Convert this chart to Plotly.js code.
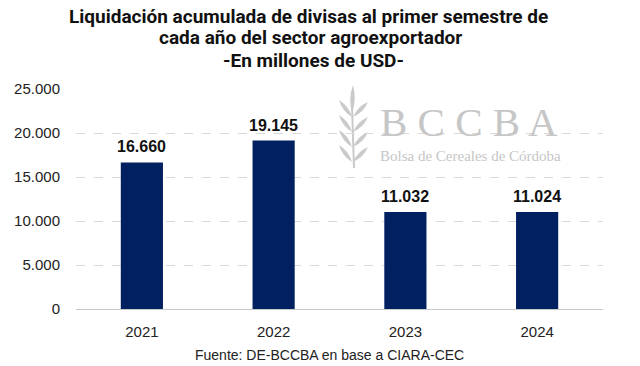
<!DOCTYPE html>
<html>
<head>
<meta charset="utf-8">
<script src="https://cdn.plot.ly/plotly-3.0.1.min.js"></script>
<style>html,body{margin:0;padding:0;background:#fff;}#chart{width:640px;height:366px;}</style>
</head>
<body>
<div id="chart"></div>
<script>
// Data
const years = ['2021', '2022', '2023', '2024'];
const values = [16660, 19145, 11032, 11024];
const yTicks = [0, 5000, 10000, 15000, 20000, 25000];

const titleLines = [
  'Liquidación acumulada de divisas al primer semestre de',
  'cada año del sector agroexportador',
  '-En millones de USD-'
];
const sourceText = 'Fuente: DE-BCCBA en base a CIARA-CEC';

function fmt(v) { return String(v).replace(/\B(?=(\d{3})+(?!\d))/g, '.'); }

// plot-area geometry (pixels) for watermark / text placement
const L = 76, R = 603, T = 89, B = 309;
const px = x => (x - L) / (R - L);
const py = y => (B - y) / (B - T);

const wmColor = '#cacaca';
function leaf(bx, by, tx, ty, w) {
  const mx = (bx + tx) / 2, my = (by + ty) / 2;
  const dx = tx - bx, dy = ty - by, len = Math.hypot(dx, dy);
  const nx = -dy / len * w, ny = dx / len * w;
  return 'M' + px(bx) + ',' + py(by) +
    ' Q' + px(mx + nx) + ',' + py(my + ny) + ' ' + px(tx) + ',' + py(ty) +
    ' Q' + px(mx - nx) + ',' + py(my - ny) + ' ' + px(bx) + ',' + py(by) + ' Z';
}
const shapes = [];
shapes.push({type: 'path', xref: 'paper', yref: 'paper',
  path: 'M' + px(354) + ',' + py(168) + ' L' + px(352) + ',' + py(105),
  line: {color: wmColor, width: 2}, layer: 'below'});
const leafY = [117, 132, 147, 162];
leafY.forEach((y) => {
  shapes.push({type: 'path', xref: 'paper', yref: 'paper', path: leaf(352, y, 339, y - 17, 4.2),
    fillcolor: wmColor, line: {width: 0}, layer: 'below'});
  shapes.push({type: 'path', xref: 'paper', yref: 'paper', path: leaf(353, y, 368, y - 15, 4.2),
    fillcolor: wmColor, line: {width: 0}, layer: 'below'});
});
shapes.push({type: 'path', xref: 'paper', yref: 'paper', path: leaf(352, 113, 353, 85, 4.5),
  fillcolor: wmColor, line: {width: 0}, layer: 'below'});

const annotations = years.map((y, i) => ({
  x: i, y: values[i], xref: 'x', yref: 'y', text: '<b>' + fmt(values[i]) + '</b>',
  showarrow: false, yanchor: 'bottom', yshift: 5,
  font: {family: 'Liberation Sans, Arial, sans-serif', size: 16, color: '#111111'}
}));
const titleY = [17, 38, 60];
titleLines.forEach((t, i) => {
  annotations.push({
    xref: 'paper', yref: 'paper', x: px(308 + i * 2.5), y: py(titleY[i]), xanchor: 'center', yanchor: 'middle',
    text: '<b>' + t + '</b>', showarrow: false,
    font: {family: 'Roboto, sans-serif', size: 19, color: '#111111'}
  });
});
annotations.push({
  xref: 'paper', yref: 'paper', x: px(469), y: py(122), xanchor: 'center', yanchor: 'middle',
  text: 'B C C B A', showarrow: false,
  font: {family: 'Liberation Serif, Times New Roman, serif', size: 41, color: '#c6c6c6'}
});
annotations.push({
  xref: 'paper', yref: 'paper', x: px(470), y: py(156), xanchor: 'center', yanchor: 'middle',
  text: 'Bolsa de Cereales de Córdoba', showarrow: false,
  font: {family: 'Liberation Serif, Times New Roman, serif', size: 15, color: '#c6c6c6'}
});
annotations.push({
  xref: 'paper', yref: 'paper', x: px(329), y: py(355), xanchor: 'center', yanchor: 'middle',
  text: sourceText, showarrow: false,
  font: {family: 'Liberation Sans, Arial, sans-serif', size: 14, color: '#222222'}
});

const trace = {
  type: 'bar', x: years, y: values,
  marker: {color: '#002060'},
  hoverinfo: 'none'
};

const layout = {
  width: 640, height: 366,
  margin: {l: L, r: 640 - R, t: T, b: 366 - B, pad: 0},
  paper_bgcolor: '#ffffff', plot_bgcolor: '#ffffff',
  separators: ',.',
  bargap: 0.68,
  showlegend: false,
  xaxis: {
    type: 'category', range: [-0.5, 3.5],
    showgrid: false, zeroline: false, showline: true, linecolor: '#c8c8c8', linewidth: 1,
    ticks: 'outside', ticklen: 9, tickcolor: 'rgba(0,0,0,0)',
    tickfont: {family: 'Liberation Sans, Arial, sans-serif', size: 15, color: '#222222'}
  },
  yaxis: {
    range: [0, 25000], tickvals: yTicks, ticktext: yTicks.map(fmt),
    showgrid: true, gridcolor: '#d9d9d9', griddash: 'dash', gridwidth: 1,
    zeroline: false, showline: false,
    ticks: 'outside', ticklen: 12, tickcolor: 'rgba(0,0,0,0)',
    tickfont: {family: 'Liberation Sans, Arial, sans-serif', size: 15, color: '#222222'}
  },
  shapes: shapes,
  annotations: annotations
};

Plotly.newPlot('chart', [trace], layout, {staticPlot: true, displayModeBar: false});
</script>
</body>
</html>
